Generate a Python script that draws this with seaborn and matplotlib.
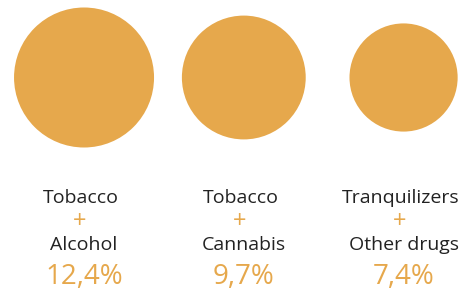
import matplotlib
matplotlib.use("Agg")
import matplotlib.pyplot as plt
import matplotlib.transforms as mtransforms
import pandas as pd
import seaborn as sns

# data
first_item = ["Tobacco", "Tobacco", "Tranquilizers"]
second_item = ["Alcohol", "Cannabis", "Other drugs"]
share = [12.4, 9.7, 7.4]
share_labels = ["12,4%", "9,7%", "7,4%"]

orange = "#E6A84C"
dark = "#222222"

df = pd.DataFrame({"pos": range(len(share)), "share": share, "row": 0})

sns.set_theme(style="white")
plt.rcParams["font.family"] = ["Open Sans", "DejaVu Sans"]

fig = plt.figure(figsize=(4.63, 2.92), dpi=100)
ax = fig.add_axes([0, 0, 1, 1])

# bubble area proportional to the share
scale = 819.5
sns.scatterplot(data=df, x="pos", y="row", s=df["share"] * scale,
                color=orange, edgecolor="none", linewidth=0, legend=False, ax=ax)

ax.set_xlim(-0.526, 2.372)
# y in pixel-like units from the top: circles centred at 77.5
ax.set_ylim(-214.5, 77.5)
ax.axis("off")

trans = mtransforms.blended_transform_factory(ax.transData, ax.transAxes)
for i in range(len(share)):
    ax.text(i - 0.02, 1 - 198 / 292, first_item[i], transform=trans,
            ha="center", va="center", fontsize=14, color=dark)
    ax.text(i - 0.025, 1 - 222 / 292, "+", transform=trans,
            ha="center", va="center", fontsize=17, color=orange)
    ax.text(i, 1 - 245 / 292, second_item[i], transform=trans,
            ha="center", va="center", fontsize=14, color=dark)
    ax.text(i, 1 - 277 / 292, share_labels[i], transform=trans,
            ha="center", va="center", fontsize=20, color=orange)

fig.savefig("out.png", dpi=100)
